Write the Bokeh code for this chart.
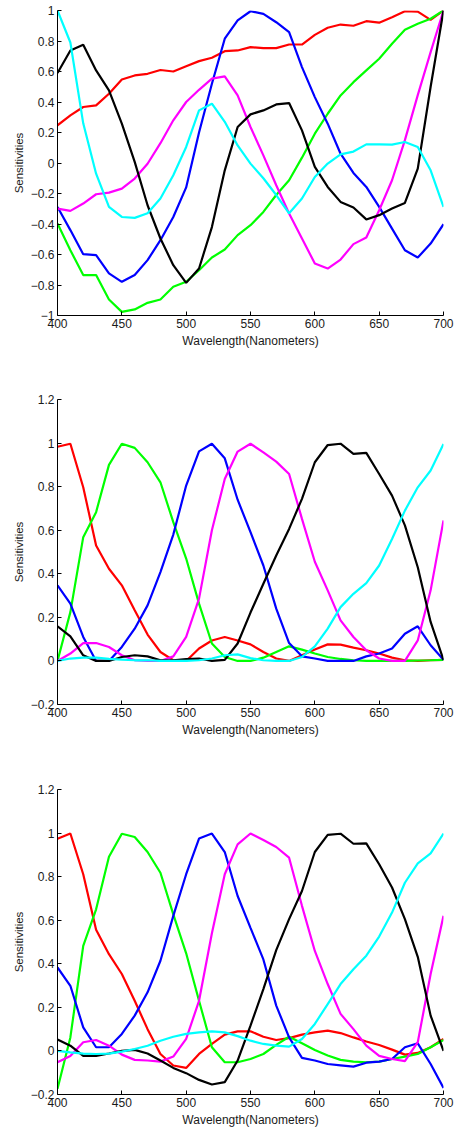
from bokeh.plotting import figure
from bokeh.layouts import column
from bokeh.models import FixedTicker, Range1d
from bokeh.embed import file_html
from bokeh.resources import INLINE

wavelength = list(range(400, 701, 10))

x_ticks = [400, 450, 500, 550, 600, 650, 700]
y_ticks_1 = [-1, -0.8, -0.6, -0.4, -0.2, 0, 0.2, 0.4, 0.6, 0.8, 1]
y_labels_1 = ["\u22121", "\u22120.8", "\u22120.6", "\u22120.4", "\u22120.2", "0", "0.2", "0.4", "0.6", "0.8", "1"]
y_ticks_2 = [-0.2, 0, 0.2, 0.4, 0.6, 0.8, 1, 1.2]
y_labels_2 = ["\u22120.2", "0", "0.2", "0.4", "0.6", "0.8", "1", "1.2"]

x_label = "Wavelength(Nanometers)"
y_label = "Sensitivities"

# ---- panel 1 ----
red_1 = [0.247, 0.312, 0.367, 0.378, 0.454, 0.548, 0.574, 0.585, 0.61, 0.6, 0.635, 0.668, 0.69, 0.733, 0.738,
         0.76, 0.753, 0.753, 0.777, 0.777, 0.84, 0.887, 0.908, 0.9, 0.93, 0.92, 0.956, 0.995, 0.993, 0.939, 1.0]
green_1 = [-0.397, -0.572, -0.735, -0.735, -0.895, -0.976, -0.96, -0.917, -0.895, -0.812, -0.779, -0.703, -0.62,
           -0.567, -0.473, -0.408, -0.321, -0.21, -0.113, 0.035, 0.192, 0.323, 0.443, 0.53, 0.607, 0.684, 0.782,
           0.873, 0.913, 0.946, 1.0]
blue_1 = [-0.288, -0.44, -0.598, -0.604, -0.724, -0.779, -0.735, -0.637, -0.506, -0.354, -0.16, 0.2, 0.52, 0.815,
          0.935, 0.995, 0.978, 0.923, 0.858, 0.629, 0.432, 0.258, 0.061, -0.065, -0.157, -0.288, -0.43, -0.572,
          -0.62, -0.528, -0.401]
magenta_1 = [-0.299, -0.314, -0.266, -0.205, -0.194, -0.168, -0.102, -0.005, 0.13, 0.28, 0.4, 0.48, 0.553, 0.568,
             0.443, 0.236, 0.05, -0.146, -0.331, -0.495, -0.659, -0.692, -0.633, -0.532, -0.489, -0.31, -0.113,
             0.15, 0.445, 0.727, 1.0]
black_1 = [0.59, 0.738, 0.775, 0.607, 0.476, 0.258, 0.007, -0.277, -0.495, -0.67, -0.786, -0.692, -0.42, -0.048,
           0.236, 0.319, 0.345, 0.384, 0.393, 0.214, -0.026, -0.157, -0.255, -0.292, -0.37, -0.342, -0.299, -0.262,
           -0.037, 0.5, 1.0]
cyan_1 = [1.0, 0.79, 0.26, -0.07, -0.288, -0.354, -0.36, -0.33, -0.233, -0.08, 0.105, 0.345, 0.389, 0.27, 0.115,
          -0.004, -0.1, -0.21, -0.33, -0.233, -0.092, -0.004, 0.057, 0.075, 0.122, 0.122, 0.12, 0.138, 0.105,
          -0.048, -0.288]

# ---- panel 2 ----
red_2 = [0.983, 0.997, 0.797, 0.53, 0.423, 0.347, 0.233, 0.121, 0.041, 0.003, 0.0, 0.057, 0.094, 0.11, 0.094,
         0.076, 0.041, 0.011, 0.0, 0.026, 0.052, 0.076, 0.075, 0.061, 0.049, 0.034, 0.015, 0.003, 0.0, 0.003, 0.005]
green_2 = [0.0, 0.224, 0.568, 0.683, 0.9, 0.997, 0.978, 0.912, 0.82, 0.637, 0.47, 0.263, 0.08, 0.018, 0.0, 0.0,
           0.015, 0.041, 0.067, 0.052, 0.034, 0.018, 0.009, 0.003, 0.0, 0.0, 0.0, 0.0, 0.002, 0.003, 0.005]
blue_2 = [0.347, 0.263, 0.11, 0.0, 0.0, 0.064, 0.148, 0.255, 0.408, 0.58, 0.805, 0.962, 0.997, 0.93, 0.74, 0.591,
          0.438, 0.24, 0.082, 0.021, 0.011, 0.0, 0.0, 0.0, 0.021, 0.034, 0.057, 0.125, 0.159, 0.072, 0.005]
magenta_2 = [0.0, 0.034, 0.082, 0.082, 0.064, 0.026, 0.003, 0.0, 0.0, 0.021, 0.11, 0.286, 0.6, 0.835, 0.961, 0.997,
             0.957, 0.915, 0.858, 0.652, 0.455, 0.324, 0.186, 0.11, 0.049, 0.011, 0.0, 0.0, 0.094, 0.324, 0.645]
black_2 = [0.159, 0.113, 0.026, 0.0, 0.0, 0.018, 0.026, 0.021, 0.003, 0.003, 0.008, 0.011, 0.0, 0.005, 0.08, 0.222,
           0.354, 0.484, 0.606, 0.744, 0.912, 0.991, 0.997, 0.95, 0.955, 0.858, 0.759, 0.622, 0.43, 0.179, 0.005]
cyan_2 = [0.0, 0.011, 0.015, 0.015, 0.009, 0.006, 0.003, 0.003, 0.0, 0.0, 0.0, 0.003, 0.011, 0.026, 0.03, 0.013,
          0.003, 0.0, 0.0, 0.018, 0.067, 0.148, 0.247, 0.308, 0.357, 0.438, 0.56, 0.69, 0.797, 0.874, 0.996]

# ---- panel 3 ----
red_3 = [0.974, 0.998, 0.811, 0.556, 0.444, 0.353, 0.23, 0.1, -0.014, -0.067, -0.078, -0.014, 0.032, 0.075, 0.09,
         0.09, 0.065, 0.05, 0.059, 0.075, 0.085, 0.093, 0.082, 0.062, 0.043, 0.027, 0.006, -0.017, -0.009, 0.017,
         0.055]
green_3 = [-0.174, 0.062, 0.482, 0.65, 0.891, 0.997, 0.982, 0.913, 0.818, 0.627, 0.448, 0.23, 0.017, -0.052,
           -0.052, -0.037, -0.014, 0.028, 0.065, 0.035, 0.004, -0.021, -0.041, -0.049, -0.052, -0.049, -0.037,
           -0.026, -0.014, 0.017, 0.05]
blue_3 = [0.383, 0.299, 0.108, 0.017, 0.017, 0.078, 0.162, 0.269, 0.414, 0.62, 0.811, 0.975, 0.998, 0.913, 0.711,
          0.565, 0.42, 0.208, 0.062, -0.032, -0.044, -0.06, -0.066, -0.072, -0.054, -0.049, -0.037, 0.017, 0.035,
          -0.06, -0.17]
magenta_3 = [-0.052, -0.023, 0.04, 0.05, 0.024, -0.017, -0.041, -0.044, -0.049, -0.026, 0.055, 0.23, 0.54, 0.811,
             0.948, 0.998, 0.968, 0.936, 0.887, 0.666, 0.459, 0.307, 0.17, 0.1, 0.024, -0.023, -0.037, -0.047, 0.04,
             0.353, 0.62]
black_3 = [0.052, 0.024, -0.023, -0.023, -0.012, 0.0, 0.005, -0.012, -0.044, -0.078, -0.102, -0.133, -0.154,
           -0.143, -0.044, 0.116, 0.284, 0.463, 0.605, 0.734, 0.913, 0.992, 0.997, 0.951, 0.953, 0.857, 0.75, 0.605,
           0.432, 0.162, 0.0]
cyan_3 = [0.0, -0.007, -0.012, -0.014, -0.012, -0.003, 0.009, 0.024, 0.047, 0.065, 0.078, 0.085, 0.09, 0.085,
          0.068, 0.047, 0.032, 0.024, 0.02, 0.055, 0.124, 0.215, 0.307, 0.375, 0.437, 0.525, 0.635, 0.772, 0.861,
          0.907, 0.998]

colors = ["#ff0000", "#00ff00", "#0000ff", "#ff00ff", "#000000", "#00ffff"]
FONT = "Liberation Sans"


def make_panel(series, y_range, y_ticks, y_labels, top, bottom):
    p = figure(frame_width=386, frame_height=305,
               x_range=Range1d(400, 700), y_range=Range1d(*y_range),
               output_backend="svg", toolbar_location=None,
               min_border_left=57, min_border_right=11,
               min_border_top=top, min_border_bottom=bottom)
    p.outline_line_color = None
    p.grid.visible = False
    p.background_fill_color = "white"
    p.border_fill_color = "white"
    for ys, c in zip(series, colors):
        p.line(wavelength, ys, line_color=c, line_width=2.2)
    p.xaxis.ticker = FixedTicker(ticks=x_ticks)
    p.yaxis.ticker = FixedTicker(ticks=y_ticks)
    p.yaxis.major_label_overrides = {t: l for t, l in zip(y_ticks, y_labels)}
    for ax in (p.xaxis[0], p.yaxis[0]):
        ax.major_tick_in = 4
        ax.major_tick_out = 0
        ax.minor_tick_in = 0
        ax.minor_tick_out = 0
        ax.axis_line_color = "black"
        ax.major_tick_line_color = "black"
        ax.major_label_text_font = FONT
        ax.major_label_text_font_size = "12px"
        ax.major_label_text_color = "#1a1a1a"
        ax.axis_label_text_font = FONT
        ax.axis_label_text_font_style = "normal"
        ax.axis_label_text_color = "#1a1a1a"
        ax.major_label_standoff = 3
        ax.axis_label_standoff = 3
    p.xaxis.axis_label_text_font_size = "12px"
    p.yaxis.axis_label_text_font_size = "11.5px"
    p.xaxis.axis_label = x_label
    p.yaxis.axis_label = y_label
    return p


p1 = make_panel([red_1, green_1, blue_1, magenta_1, black_1, cyan_1], (-1, 1), y_ticks_1, y_labels_1, 10, 74)
p2 = make_panel([red_2, green_2, blue_2, magenta_2, black_2, cyan_2], (-0.2, 1.2), y_ticks_2, y_labels_2, 10, 75)
p3 = make_panel([red_3, green_3, blue_3, magenta_3, black_3, cyan_3], (-0.2, 1.2), y_ticks_2, y_labels_2, 10, 35)

layout = column(p1, p2, p3, spacing=0)
open("out.html", "w").write(file_html(layout, INLINE))
